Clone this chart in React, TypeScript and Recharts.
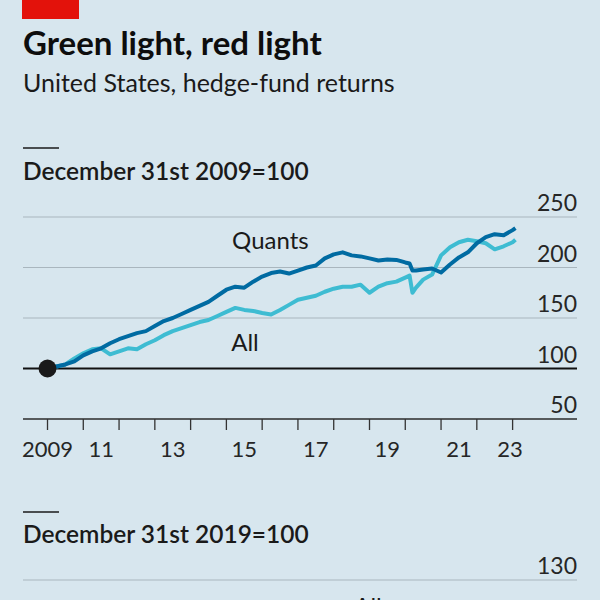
import { LineChart, Line, XAxis, YAxis, CartesianGrid, ReferenceLine, ReferenceDot } from 'recharts'

const years = [
  2010, 2010.25, 2010.5, 2010.75, 2011, 2011.25, 2011.5, 2011.75, 2012, 2012.25, 2012.5, 2012.75,
  2013, 2013.25, 2013.5, 2013.75, 2014, 2014.25, 2014.5, 2014.75, 2015, 2015.25, 2015.5, 2015.75,
  2016, 2016.25, 2016.5, 2016.75, 2017, 2017.25, 2017.5, 2017.75, 2018, 2018.25, 2018.5, 2018.75,
  2019, 2019.25, 2019.5, 2019.75, 2020, 2020.12, 2020.2, 2020.3, 2020.5, 2020.75, 2021, 2021.25,
  2021.5, 2021.75, 2022, 2022.25, 2022.5, 2022.75, 2023, 2023.08,
]

const quants = [
  100, 102, 104, 107, 113, 117, 120, 125, 129, 132, 135, 137,
  142, 147, 150, 154, 158, 162, 166, 172, 178, 181, 180, 186,
  191, 194.5, 196, 194, 197, 200, 202, 209, 213, 215, 212, 211,
  209, 207, 208, 207.5, 205, 204, 197, 197, 198, 199, 195, 203,
  210, 215, 224, 230, 233, 232, 237, 239,
]

const allFunds = [
  100, 102, 104, 110, 115, 119, 120, 114, 117, 120, 119, 124,
  128, 133, 137, 140, 143, 146, 148, 152, 156, 160, 158, 157,
  155, 153.5, 158, 163, 168, 170, 172, 176, 179, 181, 181, 183,
  175, 181, 184.5, 186, 190, 192, 175, 180, 188, 193, 212, 220,
  225, 227.5, 226, 224, 218, 221, 225, 227.5,
]

const yearTicks = [2010, 2011, 2012, 2013, 2014, 2015, 2016, 2017, 2018, 2019, 2020, 2021, 2022, 2023]
const labelPos = [2010, 2011.5, 2013.5, 2015.5, 2017.5, 2019.5, 2021.5, 2022.93]
const labelText = ['2009', '11', '13', '15', '17', '19', '21', '23']
const valueTicks = [50, 100, 150, 200, 250]

// second panel (rebased to end-2019): only its top edge is in view
const panel2Years = [2020, 2023.08]
const panel2Ticks = [130]

const xDomain = [2009.315, 2024.8]

const data = years.map((t, i) => ({ t, quants: quants[i], all: allFunds[i] }))
const data2 = panel2Years.map((t) => ({ t }))

const FONT = 'Lato, "Open Sans", sans-serif'
const BG = '#d7e6ee'
const GRID = '#a9b6be'
const INK = '#1a1a1a'

function ValueTick({ x, y, payload }: any) {
  return (
    <text x={x} y={y - 6} textAnchor="end" fontFamily={FONT} fontSize={23} fill="#262626">
      {payload.value}
    </text>
  )
}

function YearLabel({ x, y, payload }: any) {
  const i = labelPos.indexOf(payload.value)
  return (
    <text x={x} y={y + 37} textAnchor="middle" fontFamily={FONT} fontSize={22} fill="#262626">
      {labelText[i]}
    </text>
  )
}

const seriesLabel = (text: string) => (p: any) => (
  <text x={p.cx} y={p.cy} textAnchor="middle" fontFamily={FONT} fontSize={24} fill={INK}>
    {text}
  </text>
)

export default function App() {
  return (
    <div
      style={{
        position: 'fixed',
        left: 0,
        top: 0,
        width: 600,
        height: 600,
        overflow: 'hidden',
        background: BG,
      }}
    >
      <svg width={600} height={600} style={{ position: 'absolute', left: 0, top: 0 }}>
        <rect x={22} y={0} width={57} height={19} fill="#e3120b" />
        <text x={23} y={55} fontFamily={FONT} fontWeight={700} fontSize={33} fill="#0d0d0d">
          Green light, red light
        </text>
        <text x={23} y={92} fontFamily={FONT} fontSize={25} fill={INK}>
          United States, hedge-fund returns
        </text>
        <line x1={23} x2={59} y1={148} y2={148} stroke={INK} strokeWidth={1.5} />
        <text x={23} y={180} fontFamily={FONT} fontWeight={600} fontSize={24.5} fill={INK}>
          December 31st 2009=100
        </text>
        <line x1={23} x2={59} y1={512} y2={512} stroke={INK} strokeWidth={1.5} />
        <text x={23} y={543} fontFamily={FONT} fontWeight={600} fontSize={24.5} fill={INK}>
          December 31st 2019=100
        </text>
        <text x={577} y={574} textAnchor="end" fontFamily={FONT} fontSize={23} fill="#262626">
          {panel2Ticks[0]}
        </text>
        <text x={368} y={615} textAnchor="middle" fontFamily={FONT} fontSize={24} fill={INK}>
          All
        </text>
      </svg>

      <div style={{ position: 'absolute', left: 0, top: 0 }}>
        <LineChart width={600} height={600} data={data} margin={{ top: 217, right: 22, bottom: 179, left: 23 }}>
          <CartesianGrid vertical={false} stroke={GRID} strokeWidth={1.2} />
          <XAxis
            dataKey="t"
            type="number"
            domain={xDomain}
            allowDataOverflow
            ticks={yearTicks}
            interval={0}
            height={1}
            tickSize={11}
            tickLine={{ stroke: '#333', strokeWidth: 1.3 }}
            axisLine={{ stroke: '#333', strokeWidth: 1.3 }}
            tick={() => <g />}
          />
          <XAxis
            xAxisId="lbl"
            dataKey="t"
            type="number"
            domain={xDomain}
            allowDataOverflow
            ticks={labelPos}
            interval={0}
            height={1}
            tickSize={0}
            tickMargin={0}
            tickLine={false}
            axisLine={false}
            tick={<YearLabel />}
          />
          <YAxis
            orientation="right"
            domain={[50, 250]}
            ticks={valueTicks}
            interval={0}
            width={1}
            tickSize={0}
            tickMargin={0}
            tickLine={false}
            axisLine={false}
            tick={<ValueTick />}
          />
          <ReferenceLine y={100} stroke="#111" strokeWidth={2} />
          <Line dataKey="all" stroke="#3ebcd2" strokeWidth={4} dot={false} isAnimationActive={false} strokeLinejoin="round" />
          <Line dataKey="quants" stroke="#006ba2" strokeWidth={4} dot={false} isAnimationActive={false} strokeLinejoin="round" />
          <ReferenceDot x={2010} y={100} r={9} fill="#1a1a1a" stroke="none" ifOverflow="visible" />
          <ReferenceDot x={2016.23} y={218.3} r={0} shape={seriesLabel('Quants')} ifOverflow="visible" />
          <ReferenceDot x={2015.52} y={117.1} r={0} shape={seriesLabel('All')} ifOverflow="visible" />
        </LineChart>
      </div>

      <div style={{ position: 'absolute', left: 0, top: 0 }}>
        <LineChart width={600} height={700} data={data2} margin={{ top: 580, right: 22, bottom: 20, left: 23 }}>
          <CartesianGrid vertical={false} stroke={GRID} strokeWidth={1.2} />
          <XAxis
            dataKey="t"
            type="number"
            domain={[2019.8, 2023.4]}
            allowDataOverflow
            height={1}
            tick={() => <g />}
            axisLine={false}
            tickLine={false}
          />
          <YAxis
            orientation="right"
            domain={[70, 130]}
            ticks={panel2Ticks}
            interval={0}
            width={1}
            tickSize={0}
            tickMargin={0}
            tickLine={false}
            axisLine={false}
            tick={() => <g />}
          />
        </LineChart>
      </div>
    </div>
  )
}
